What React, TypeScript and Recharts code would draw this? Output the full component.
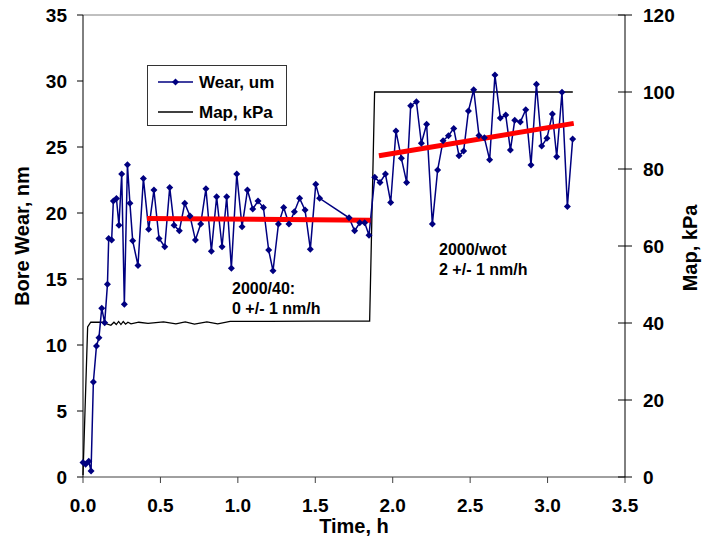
import { LineChart, Line, XAxis, YAxis, ReferenceLine } from "recharts";

const FONT = "'Liberation Sans', Arial, sans-serif";

// Bore wear, nm (left axis)
const wearTime = [
  0, 0.017, 0.037, 0.052, 0.067, 0.087, 0.103, 0.121, 0.14, 0.158, 0.166, 0.185, 0.196, 0.216, 0.232,
  0.25, 0.267, 0.287, 0.303, 0.321, 0.355, 0.39, 0.424, 0.458, 0.491, 0.528, 0.56, 0.588, 0.622, 0.657,
  0.691, 0.726, 0.76, 0.794, 0.829, 0.863, 0.898, 0.928, 0.958, 0.993, 1.027, 1.062, 1.096, 1.13, 1.165,
  1.199, 1.227, 1.262, 1.296, 1.33, 1.365, 1.399, 1.434, 1.468, 1.503, 1.528, 1.718, 1.754, 1.787, 1.819,
  1.847, 1.884, 1.918, 1.953, 1.987, 2.021, 2.056, 2.09, 2.116, 2.153, 2.185, 2.219, 2.256, 2.29, 2.325,
  2.36, 2.394, 2.428, 2.458, 2.489, 2.523, 2.557, 2.592, 2.626, 2.66, 2.695, 2.73, 2.76, 2.788, 2.824,
  2.859, 2.893, 2.928, 2.962, 2.996, 3.031, 3.059, 3.093, 3.128, 3.162,
];
const wearValue = [
  1.09, 0.96, 1.19, 0.45, 7.2, 9.93, 10.54, 12.79, 11.68, 14.61, 18.07, 17.95, 20.9, 21.1, 19.08,
  22.95, 13.09, 23.65, 20.73, 17.89, 16.03, 22.62, 18.76, 21.74, 18.07, 17.44, 21.94, 19.08, 18.65, 20.73,
  19.77, 17.95, 19.16, 21.84, 17.11, 21.23, 17.44, 21.23, 15.82, 22.95, 18.95, 21.74, 20.3, 20.9, 20.42,
  17.19, 15.62, 19.16, 20.42, 19.16, 20.09, 21.11, 20.22, 17.26, 22.17, 21.11, 19.64, 18.65, 19.26, 19.26,
  18.32, 22.7, 22.32, 22.95, 20.8, 26.21, 24.14, 22.32, 28.13, 28.43, 25.28, 26.72, 19.16, 23.25, 25.47,
  25.85, 26.41, 24.34, 24.69, 27.73, 29.34, 25.88, 25.7, 24.03, 30.45, 27.2, 27.42, 24.77, 27.02, 26.89,
  27.82, 23.63, 29.75, 25.07, 25.66, 27.5, 24.26, 29.14, 20.5, 25.6,
];

// Manifold pressure, kPa (right axis)
const mapTime = [
  0, 0.03, 0.05, 0.12, 0.18, 0.2, 0.215, 0.23, 0.245, 0.26, 0.275, 0.29, 0.31, 0.36, 0.42, 0.52, 0.6,
  0.66, 0.72, 0.8, 0.87, 0.95, 1.2, 1.5, 1.851, 1.883, 3.163,
];
const mapValue = [
  0.5, 39, 40.2, 40.2, 39.4, 40.2, 39.6, 40.4, 39.6, 40.4, 39.7, 40.2, 39.8, 40.2, 39.9, 40.3, 39.8,
  40.3, 39.7, 40.3, 39.8, 40.4, 40.4, 40.5, 40.5, 100, 100,
];

// linear fits
const fit40Time = [0.413, 1.857];
const fit40Value = [19.59, 19.46];
const fitWotTime = [1.911, 3.169];
const fitWotValue = [24.34, 26.79];

const xTicks = [0, 0.5, 1, 1.5, 2, 2.5, 3, 3.5];
const leftTicks = [0, 5, 10, 15, 20, 25, 30, 35];
const rightTicks = [0, 20, 40, 60, 80, 100, 120];

const zip = (t: number[], v: number[]) => t.map((time, i) => ({ time, value: v[i] }));
const wearData = zip(wearTime, wearValue);
const mapData = zip(mapTime, mapValue);
const fit40Data = zip(fit40Time, fit40Value);
const fitWotData = zip(fitWotTime, fitWotValue);

const Diamond = (p: any) => {
  const { cx, cy, index } = p;
  if (cx == null || cy == null) return <g key={`d${index}`} />;
  return (
    <path
      key={`d${index}`}
      d={`M${cx},${cy - 3.5}L${cx + 3.5},${cy}L${cx},${cy + 3.5}L${cx - 3.5},${cy}Z`}
      fill="#000080"
    />
  );
};

const RightTick = (p: any) => {
  const { x, y, payload } = p;
  const ax = x - 7 - 11;
  return (
    <g>
      <line x1={ax - 7} x2={ax + 7} y1={y} y2={y} stroke="#000" />
      <text x={x} y={y} dy="0.355em" textAnchor="start" fontFamily={FONT} fontWeight="bold" fontSize={19} fill="#000">
        {payload.value}
      </text>
    </g>
  );
};

const tickStyle = { fontFamily: FONT, fontWeight: "bold", fontSize: 19, fill: "#000" };

export default function App() {
  return (
    <div style={{ position: "absolute", left: 0, top: 0, width: 714, height: 542, background: "#fff" }}>
      <LineChart width={714} height={542} margin={{ top: 15, right: 0, bottom: 0, left: 0 }}>
        <XAxis
          dataKey="time"
          type="number"
          domain={[0, 3.5]}
          ticks={xTicks}
          tickFormatter={(v: number) => v.toFixed(1)}
          height={65}
          tickSize={6}
          tickMargin={16}
          stroke="#404040"
          tick={tickStyle}
          allowDuplicatedCategory={false}
          label={() => (
            <text x={354} y={533} textAnchor="middle" fontFamily={FONT} fontWeight="bold" fontSize={20}>
              Time, h
            </text>
          )}
        />
        <YAxis
          yAxisId="left"
          domain={[0, 35]}
          ticks={leftTicks}
          width={83}
          tickSize={6}
          tickMargin={10}
          stroke="#000"
          tick={tickStyle}
          label={() => (
            <text
              x={29}
              y={236}
              transform="rotate(-90 29 236)"
              textAnchor="middle"
              fontFamily={FONT}
              fontWeight="bold"
              fontSize={20}
            >
              Bore Wear, nm
            </text>
          )}
        />
        <YAxis
          yAxisId="right"
          orientation="right"
          domain={[0, 120]}
          ticks={rightTicks}
          width={89}
          tickSize={7}
          tickMargin={11}
          tickLine={false}
          stroke="#000"
          tick={<RightTick />}
          label={() => (
            <text
              x={697}
              y={248}
              transform="rotate(-90 697 248)"
              textAnchor="middle"
              fontFamily={FONT}
              fontWeight="bold"
              fontSize={20}
            >
              Map, kPa
            </text>
          )}
        />
        <ReferenceLine yAxisId="left" y={35} stroke="#808080" />
        <Line
          yAxisId="right"
          data={mapData}
          dataKey="value"
          stroke="#000"
          strokeWidth={1.3}
          dot={false}
          isAnimationActive={false}
        />
        <Line
          yAxisId="left"
          data={wearData}
          dataKey="value"
          stroke="#000080"
          strokeWidth={1.5}
          dot={Diamond}
          isAnimationActive={false}
        />
        <Line
          yAxisId="left"
          data={fit40Data}
          dataKey="value"
          stroke="#ff0000"
          strokeWidth={5}
          dot={false}
          isAnimationActive={false}
        />
        <Line
          yAxisId="left"
          data={fitWotData}
          dataKey="value"
          stroke="#ff0000"
          strokeWidth={5}
          dot={false}
          isAnimationActive={false}
        />
      </LineChart>

      <div
        style={{
          position: "absolute",
          left: 147,
          top: 65,
          width: 138,
          height: 59,
          border: "1px solid #333",
          background: "#fff",
        }}
      >
        <svg width={140} height={61} style={{ position: "absolute", left: -1, top: -1 }}>
          <line x1={11} x2={46} y1={17} y2={17} stroke="#000080" strokeWidth={1.5} />
          <path d="M28.5,13.5L32,17L28.5,20.5L25,17Z" fill="#000080" />
          <line x1={11} x2={46} y1={47} y2={47} stroke="#000" strokeWidth={1.3} />
          <text x={52} y={17} dy="0.355em" fontFamily={FONT} fontWeight="bold" fontSize={17}>
            Wear, um
          </text>
          <text x={52} y={47} dy="0.355em" fontFamily={FONT} fontWeight="bold" fontSize={17}>
            Map, kPa
          </text>
        </svg>
      </div>

      <svg width={714} height={542} style={{ position: "absolute", left: 0, top: 0, pointerEvents: "none" }}>
        <g fontFamily={FONT} fontWeight="bold" fontSize={16} fill="#000">
          <text x={232} y={294}>2000/40:</text>
          <text x={232} y={314}>0 +/- 1 nm/h</text>
          <text x={439} y={255}>2000/wot</text>
          <text x={439} y={275}>2 +/- 1 nm/h</text>
        </g>
      </svg>
    </div>
  );
}
